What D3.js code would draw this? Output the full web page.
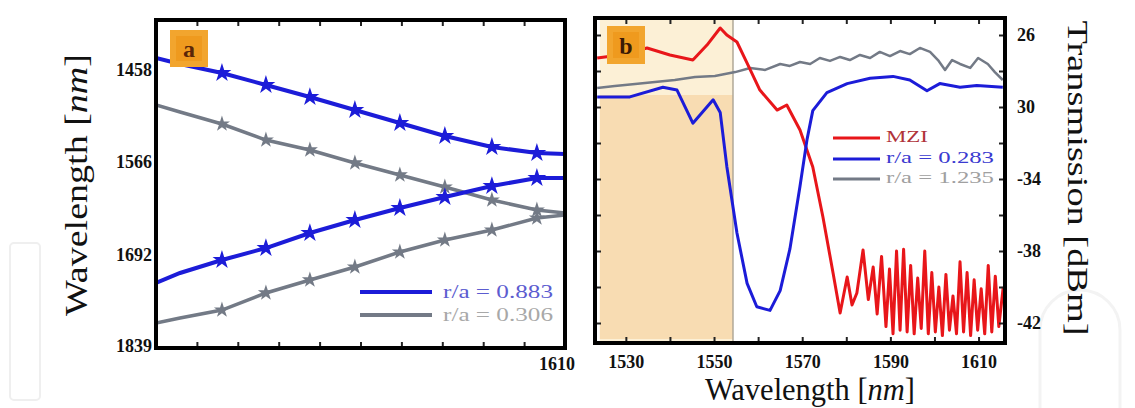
<!DOCTYPE html>
<html><head><meta charset="utf-8">
<script src="https://cdn.jsdelivr.net/npm/d3@7/dist/d3.min.js"></script>
<style>body{margin:0;background:#fff}svg{display:block}</style>
</head><body><svg id="c" width="1135" height="408"></svg>
<script>
// ---------- Panel (a) data ----------
const aX = [1530, 1534.7, 1542.9, 1551.5, 1560.1, 1568.9, 1577.7, 1586.5, 1595.7, 1604.5, 1610];
const aBlueUpper = [1445.0, 1451.5, 1461.3, 1474.6, 1488.2, 1503.1, 1518.4, 1534.0, 1547.4, 1554.9, 1556.1];
const aBlueLower = [1735.5, 1720.1, 1700.5, 1682.9, 1661.3, 1643.0, 1626.5, 1611.7, 1597.1, 1586.6, 1586.6];
const aGrayUpper = [1497.3, 1505.5, 1519.6, 1538.9, 1551.1, 1567.4, 1582.7, 1598.4, 1615.7, 1629.2, 1633.3];
const aGrayLower = [1799.8, 1791.5, 1778.4, 1751.1, 1730.8, 1711.0, 1688.7, 1671.3, 1657.0, 1640.2, 1636.1];
const aYTicks = [1458, 1566, 1692, 1839];
const aXTickLabels = [1610];
const aLegend = ["r/a = 0.883", "r/a = 0.306"];

// ---------- Panel (b) data ----------
const bRedX = [1523.5,1528.7,1534.8,1540.0,1545.2,1548.4,1551.4,1552.9,1555.2,1557.5,1560.4,1564.3,1566.5,1569.5,1572.4,1574.7,1577.0,1578.6,1580.2,1581.3,1582.4,1583.8,1585.0,1586.1,1587.0,1588.0,1589.0,1589.8,1590.6,1591.4,1592.2,1593.0,1593.8,1594.6,1595.4,1596.2,1597.0,1597.8,1598.6,1599.4,1600.2,1601.0,1601.8,1602.6,1603.4,1604.2,1605.0,1605.8,1606.6,1607.4,1608.2,1609.0,1609.8,1610.6,1611.4,1612.2,1613.0,1613.8,1614.6,1615.6];
const bRedY = [-27.28,-27.11,-26.72,-27.11,-27.39,-26.56,-25.61,-26.0,-26.39,-27.56,-29.06,-30.17,-29.89,-31.28,-33.33,-36.11,-39.22,-41.44,-39.44,-41.0,-40.33,-37.94,-40.7,-38.89,-41.5,-38.3,-42.2,-39.0,-42.6,-38.0,-42.4,-37.9,-42.5,-38.8,-42.6,-39.5,-42.3,-38.0,-42.6,-39.2,-42.5,-40.0,-42.7,-39.3,-42.4,-40.5,-42.6,-38.6,-42.5,-39.2,-42.7,-39.6,-42.4,-40.1,-42.6,-38.8,-42.5,-39.4,-42.2,-40.0];
const bBlueX = [1523.5,1530.9,1538.4,1541.6,1545.2,1549.8,1551.4,1552.9,1555.2,1557.5,1559.7,1562.7,1565.0,1567.2,1569.5,1571.1,1572.4,1575.6,1580.2,1585.4,1590.6,1594.4,1598.3,1601.2,1605.8,1609.6,1615.5];
const bBlueY = [-29.44,-29.44,-28.9,-29.06,-30.9,-29.6,-30.3,-33.3,-37.0,-39.8,-41.1,-41.3,-40.2,-37.9,-34.4,-31.8,-30.2,-29.2,-28.7,-28.4,-28.3,-28.5,-29.1,-28.7,-28.9,-28.8,-28.9];
const bGrayX = [1523.5,1527.5,1532.1,1536.6,1541.1,1545.7,1550.2,1554.8,1558.2,1561.6,1565.0,1567.2,1569.5,1571.8,1574.0,1576.3,1578.6,1580.8,1583.1,1585.4,1587.6,1589.9,1592.2,1594.4,1596.7,1599.0,1600.8,1602.4,1604.0,1605.8,1608.1,1609.9,1612.1,1613.7,1615.5];
const bGrayY = [-28.94,-28.83,-28.72,-28.61,-28.5,-28.33,-28.28,-28.06,-27.83,-27.94,-27.61,-27.72,-27.5,-27.61,-27.28,-27.44,-27.22,-27.39,-27.11,-27.28,-26.94,-27.17,-26.89,-27.06,-26.72,-26.94,-27.39,-27.94,-27.39,-27.61,-27.83,-27.28,-27.61,-28.06,-28.5];
const bXTicks = [1530, 1550, 1570, 1590, 1610];
const bYTicks = [-26, -30, -34, -38, -42];
const bYTickLabels = ["26", "30", "-34", "-38", "-42"];
const bLegend = ["MZI", "r/a = 0.283", "r/a = 1.235"];
const bShade = [1524.1, 1554.3];
const bMarker = 1554.3;

const BLUE = "#1c1cd8", GRAY = "#737a86", RED = "#e8161a";
const svg = d3.select("#c");
const serif = "'Liberation Serif','DejaVu Serif',serif";

// faint watermark shapes
svg.append("rect").attr("x",10).attr("y",243).attr("width",30).attr("height",157).attr("rx",4)
  .attr("fill","none").attr("stroke","#efefef").attr("stroke-width",2);
svg.append("path").attr("d","M1120,408 L1120,330 A40,40 0 0 0 1040,330 L1040,408").attr("fill","none").attr("stroke","#f3f3f3").attr("stroke-width",3);

// ---------- Panel (a) ----------
const A = {l:156, r:565, t:20, b:348};
const xa = d3.scaleLinear().domain([1530,1610]).range([A.l, A.r]);
const ya = d3.scaleLinear().domain([1/1458, 1/1839]).range([70, 346]);
const ga = svg.append("g");
ga.append("clipPath").attr("id","clipA").append("rect").attr("x",A.l).attr("y",A.t).attr("width",A.r-A.l).attr("height",A.b-A.t);
const lineA = d3.line().x(d=>xa(d[0])).y(d=>ya(1/d[1]));
const aSeries = [
  {y:aGrayUpper, c:GRAY, w:3.5},
  {y:aGrayLower, c:GRAY, w:3.5},
  {y:aBlueUpper, c:BLUE, w:4},
  {y:aBlueLower, c:BLUE, w:4}
];
const plotA = ga.append("g").attr("clip-path","url(#clipA)");
aSeries.forEach(s=>{
  const pts = aX.map((x,i)=>[x, s.y[i]]);
  plotA.append("path").attr("d", lineA(pts)).attr("fill","none").attr("stroke", s.c).attr("stroke-width", s.w);
  plotA.selectAll(null).data(pts.slice(2, pts.length-1)).enter().append("path")
    .attr("d", d3.symbol().type(d3.symbolStar).size(s.c===BLUE?110:80))
    .attr("transform", d=>`translate(${xa(d[0])},${ya(1/d[1])})`)
    .attr("fill", s.c);
});
// legend a
const legA = ga.append("g");
[[BLUE,"#5c5cd0",292],[GRAY,"#a8a8a8",315]].forEach((c,i)=>{
  legA.append("line").attr("x1",360).attr("x2",432).attr("y1",c[2]).attr("y2",c[2]).attr("stroke",c[0]).attr("stroke-width",4);
  legA.append("text").attr("x",443).attr("y",c[2]+6).attr("font-family",serif).attr("font-size",18)
    .attr("fill",c[1]).attr("textLength",110).attr("lengthAdjust","spacingAndGlyphs").text(aLegend[i]);
});
// axes a
ga.append("g").attr("transform",`translate(${A.l},0)`)
  .call(d3.axisLeft(ya).tickValues(aYTicks.map(v=>1/v)).tickFormat(d=>Math.round(1/d)).tickSize(0).tickPadding(4))
  .call(g=>{g.select(".domain").remove(); g.selectAll("text").attr("font-family",serif).attr("font-size",18).attr("font-weight","bold").attr("fill","#111");});
ga.append("g").attr("transform",`translate(0,${A.b})`)
  .call(d3.axisBottom(xa).tickValues(d3.range(1538,1610,8)).tickSize(-6).tickFormat(""))
  .call(g=>{g.select(".domain").remove(); g.selectAll("line").attr("stroke","#222").attr("stroke-width",2);});
ga.append("g").attr("transform",`translate(0,${A.t})`)
  .call(d3.axisTop(xa).tickValues(d3.range(1538,1610,8)).tickSize(-6).tickFormat(""))
  .call(g=>{g.select(".domain").remove(); g.selectAll("line").attr("stroke","#222").attr("stroke-width",2);});
ga.selectAll(null).data(aXTickLabels).enter().append("text")
  .attr("x",d=>xa(d)-8).attr("y",370).attr("text-anchor","middle").attr("font-family",serif)
  .attr("font-size",18).attr("font-weight","bold").attr("fill","#111").text(d=>d);
ga.append("rect").attr("x",A.l).attr("y",A.t).attr("width",A.r-A.l).attr("height",A.b-A.t)
  .attr("fill","none").attr("stroke","#000").attr("stroke-width",4);
// label box a
const boxA = ga.append("g").attr("transform","translate(170,30)");
boxA.append("rect").attr("width",38).attr("height",37).attr("fill","#f2a52e");
boxA.append("rect").attr("x",6).attr("y",6).attr("width",26).attr("height",25).attr("fill","#ef9a1e");
boxA.append("text").attr("x",19).attr("y",27).attr("text-anchor","middle").attr("font-family",serif)
  .attr("font-size",24).attr("font-weight","bold").attr("fill","#5a2608").text("a");
// y title a
svg.append("text").attr("transform","translate(87,185) rotate(-90)").attr("text-anchor","middle")
  .attr("font-family",serif).attr("font-size",32).attr("fill","#111").attr("textLength",262)
  .attr("lengthAdjust","spacingAndGlyphs")
  .html('Wavelength [<tspan font-style="italic">nm</tspan>]');

// ---------- Panel (b) ----------
const B = {l:595, r:1005, t:18, b:343};
const xb = d3.scaleLinear().domain([1523,1616]).range([B.l, B.r]);
const yb = d3.scaleLinear().domain([-26,-42]).range([35, 323]);
const gb = svg.append("g");
gb.append("clipPath").attr("id","clipB").append("rect").attr("x",B.l).attr("y",B.t).attr("width",B.r-B.l).attr("height",B.b-B.t);
const plotB = gb.append("g").attr("clip-path","url(#clipB)");
plotB.append("rect").attr("x",xb(bShade[0])).attr("y",B.t).attr("width",xb(bShade[1])-xb(bShade[0])).attr("height",B.b-B.t)
  .attr("fill","#fcf0d6");
plotB.append("rect").attr("x",xb(bShade[0])).attr("y",95).attr("width",xb(bShade[1])-xb(bShade[0])).attr("height",B.b-95-4)
  .attr("fill","#f8dcb2");
plotB.append("line").attr("x1",xb(bMarker)).attr("x2",xb(bMarker)).attr("y1",B.t).attr("y2",B.b)
  .attr("stroke","#b0a898").attr("stroke-width",1.5);
const lineB = d3.line().x(d=>xb(d[0])).y(d=>yb(d[1]));
[[bGrayX,bGrayY,GRAY,2.5],[bRedX,bRedY,RED,3],[bBlueX,bBlueY,BLUE,3]].forEach(s=>{
  plotB.append("path").attr("d", lineB(s[0].map((x,i)=>[x,s[1][i]]))).attr("fill","none")
    .attr("stroke",s[2]).attr("stroke-width",s[3]).attr("stroke-linejoin","round");
});
// legend b
const legB = gb.append("g");
[[RED,"#b0333a",138,42],[BLUE,"#3a3ad0",159,108],[GRAY,"#a0a0a0",179,108]].forEach((c,i)=>{
  legB.append("line").attr("x1",833).attr("x2",880).attr("y1",c[2]).attr("y2",c[2]).attr("stroke",c[0]).attr("stroke-width",3);
  legB.append("text").attr("x",886).attr("y",c[2]+4).attr("font-family",serif).attr("font-size",17)
    .attr("fill",c[1]).attr("textLength",c[3]).attr("lengthAdjust","spacingAndGlyphs").text(bLegend[i]);
});
// axes b
const tickStyle = g=>{g.select(".domain").remove(); g.selectAll("line").attr("stroke","#222").attr("stroke-width",2);};
gb.append("g").attr("transform",`translate(0,${B.b})`)
  .call(d3.axisBottom(xb).tickValues(d3.range(1530,1616,10)).tickSize(-6).tickFormat("")).call(tickStyle);
gb.append("g").attr("transform",`translate(0,${B.t})`)
  .call(d3.axisTop(xb).tickValues(d3.range(1530,1616,10)).tickSize(-6).tickFormat("")).call(tickStyle);
gb.append("g").attr("transform",`translate(${B.r},0)`)
  .call(d3.axisRight(yb).tickValues(d3.range(-26,-43,-2)).tickSize(-6).tickFormat("")).call(tickStyle);
gb.append("g").attr("transform",`translate(${B.l},0)`)
  .call(d3.axisLeft(yb).tickValues(d3.range(-26,-43,-2)).tickSize(-6).tickFormat("")).call(tickStyle);
gb.append("g").attr("transform",`translate(0,${B.b})`)
  .call(d3.axisBottom(xb).tickValues(bXTicks).tickSize(0).tickPadding(12).tickFormat(d3.format("d")))
  .call(g=>{g.select(".domain").remove(); g.selectAll("text").attr("font-family",serif).attr("font-size",18).attr("font-weight","bold").attr("fill","#111");});
gb.append("g").attr("transform",`translate(${B.r},0)`)
  .call(d3.axisRight(yb).tickValues(bYTicks).tickSize(0).tickPadding(12).tickFormat((d,i)=>bYTickLabels[i]))
  .call(g=>{g.select(".domain").remove(); g.selectAll("text").attr("font-family",serif).attr("font-size",18).attr("font-weight","bold").attr("fill","#111");});
gb.append("rect").attr("x",B.l).attr("y",B.t).attr("width",B.r-B.l).attr("height",B.b-B.t)
  .attr("fill","none").attr("stroke","#000").attr("stroke-width",4);
const boxB = gb.append("g").attr("transform","translate(607,26)");
boxB.append("rect").attr("width",38).attr("height",38).attr("fill","#f2a52e");
boxB.append("rect").attr("x",6).attr("y",6).attr("width",26).attr("height",26).attr("fill","#ef9a1e");
boxB.append("text").attr("x",19).attr("y",28).attr("text-anchor","middle").attr("font-family",serif)
  .attr("font-size",24).attr("font-weight","bold").attr("fill","#3a1a06").text("b");
// titles
svg.append("text").attr("x",810).attr("y",400).attr("text-anchor","middle")
  .attr("font-family",serif).attr("font-size",31).attr("fill","#111").attr("textLength",210)
  .attr("lengthAdjust","spacingAndGlyphs")
  .html('Wavelength [<tspan font-style="italic">nm</tspan>]');
svg.append("text").attr("transform","translate(1068,178) rotate(90)").attr("text-anchor","middle")
  .attr("font-family",serif).attr("font-size",30).attr("fill","#111").attr("textLength",315)
  .attr("lengthAdjust","spacingAndGlyphs").text("Transmission [dBm]");
</script></body></html>
